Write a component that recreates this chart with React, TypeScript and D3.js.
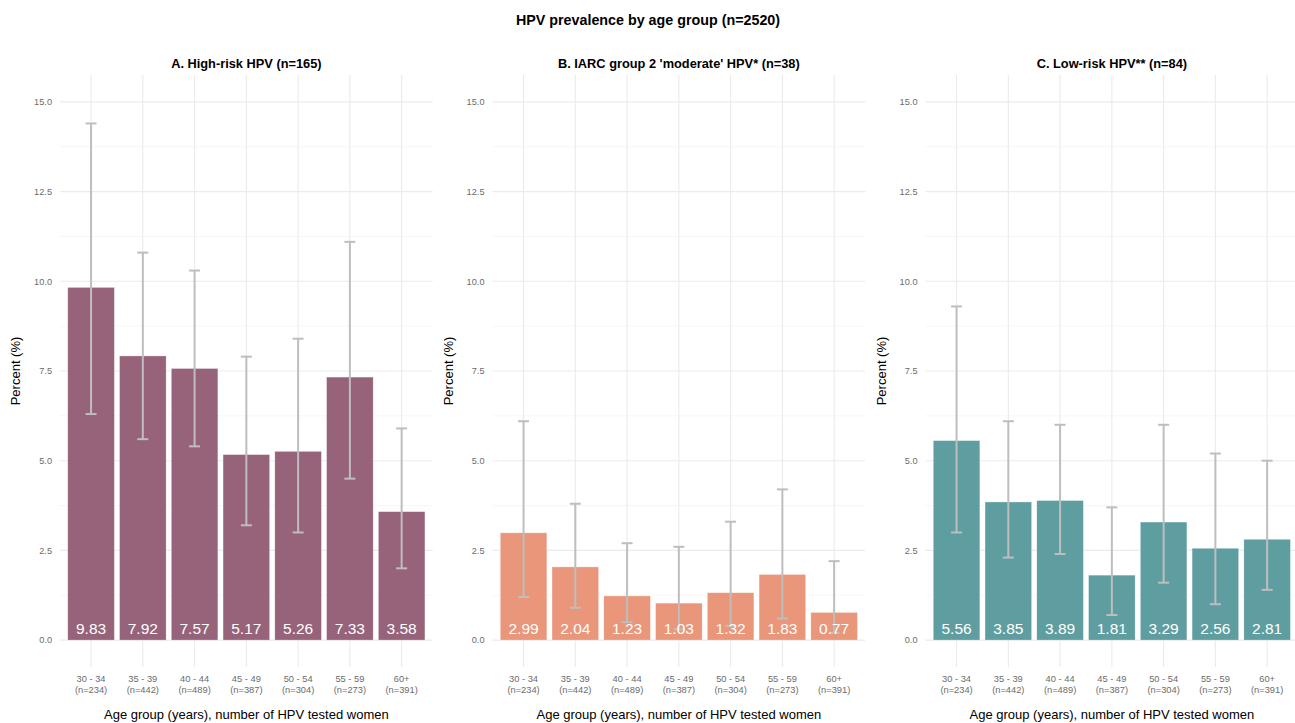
import React from "react";
import * as d3 from "d3";

const categories = ["30 - 34", "35 - 39", "40 - 44", "45 - 49", "50 - 54", "55 - 59", "60+"];
const nLabels = ["(n=234)", "(n=442)", "(n=489)", "(n=387)", "(n=304)", "(n=273)", "(n=391)"];

const panelTitles = [
  "A. High-risk HPV (n=165)",
  "B. IARC group 2 'moderate' HPV* (n=38)",
  "C. Low-risk HPV** (n=84)",
];
const panelColors = ["#96637a", "#e9967a", "#5f9ea0"];

const highRisk = [9.83, 7.92, 7.57, 5.17, 5.26, 7.33, 3.58];
const highRiskLow = [6.3, 5.6, 5.4, 3.2, 3.0, 4.5, 2.0];
const highRiskHigh = [14.4, 10.8, 10.3, 7.9, 8.4, 11.1, 5.9];

const moderate = [2.99, 2.04, 1.23, 1.03, 1.32, 1.83, 0.77];
const moderateLow = [1.2, 0.9, 0.5, 0.3, 0.4, 0.6, 0.2];
const moderateHigh = [6.1, 3.8, 2.7, 2.6, 3.3, 4.2, 2.2];

const lowRisk = [5.56, 3.85, 3.89, 1.81, 3.29, 2.56, 2.81];
const lowRiskLow = [3.0, 2.3, 2.4, 0.7, 1.6, 1.0, 1.4];
const lowRiskHigh = [9.3, 6.1, 6.0, 3.7, 6.0, 5.2, 5.0];

const yTicks = [0, 2.5, 5, 7.5, 10, 12.5, 15];
const yMinor = [1.25, 3.75, 6.25, 8.75, 11.25, 13.75];

const panels = [
  { values: highRisk, low: highRiskLow, high: highRiskHigh },
  { values: moderate, low: moderateLow, high: moderateHigh },
  { values: lowRisk, low: lowRiskLow, high: lowRiskHigh },
];

const W = 1295;
const H = 723;
const FONT = "'Liberation Sans', Arial, Helvetica, sans-serif";
const plotStarts = [60, 492.5, 925.5];
const plotWidth = 372.7;
const yTop = 75;
const yBottom = 667;

export default function App() {
  const y = d3.scaleLinear().domain([-0.75, 15.75]).range([yBottom, yTop]);
  return (
    <svg
      width={W}
      height={H}
      style={{ position: "absolute", left: 0, top: 0, background: "#fff" }}
      fontFamily={FONT}
    >
      <text x={648} y={25} textAnchor="middle" fontSize={14.3} fontWeight="bold" fill="#000">
        HPV prevalence by age group (n=2520)
      </text>
      {panels.map((p, pi) => {
        const x0 = plotStarts[pi];
        const x1 = x0 + plotWidth;
        const x = d3.scalePoint<string>().domain(categories).range([x0, x1]).padding(0.6);
        const bw = x.step() * 0.9;
        const cap = 11;
        return (
          <g key={pi}>
            {yMinor.map((t) => (
              <line key={"m" + t} x1={x0} x2={x1} y1={y(t)} y2={y(t)} stroke="#f4f4f4" strokeWidth={0.8} />
            ))}
            {yTicks.map((t) => (
              <line key={"g" + t} x1={x0} x2={x1} y1={y(t)} y2={y(t)} stroke="#ebebeb" strokeWidth={1.1} />
            ))}
            {categories.map((c) => (
              <line key={"v" + c} x1={x(c)} x2={x(c)} y1={yTop} y2={yBottom} stroke="#ebebeb" strokeWidth={1.1} />
            ))}
            {yTicks.map((t) => (
              <text key={"t" + t} x={x0 - 8} y={y(t) + 3.2} textAnchor="end" fontSize={9.2} fill="#6b6b6b">
                {t.toFixed(1)}
              </text>
            ))}
            <text
              transform={`translate(${x0 - 40},${(yTop + yBottom) / 2}) rotate(-90)`}
              textAnchor="middle"
              fontSize={13}
              fill="#000"
            >
              Percent (%)
            </text>
            <text x={(x0 + x1) / 2} y={68} textAnchor="middle" fontSize={12.8} fontWeight="bold" fill="#000">
              {panelTitles[pi]}
            </text>
            {categories.map((c, i) => (
              <rect
                key={"b" + c}
                x={(x(c) as number) - bw / 2}
                y={y(p.values[i])}
                width={bw}
                height={y(0) - y(p.values[i])}
                fill={panelColors[pi]}
                stroke="#ffffff"
                strokeOpacity={0.5}
                strokeWidth={0.6}
              />
            ))}
            {categories.map((c, i) => {
              const cx = x(c) as number;
              return (
                <g key={"e" + c} stroke="#bebebe" strokeWidth={2}>
                  <line x1={cx} x2={cx} y1={y(p.high[i])} y2={y(p.low[i])} />
                  <line x1={cx - cap / 2} x2={cx + cap / 2} y1={y(p.high[i])} y2={y(p.high[i])} />
                  <line x1={cx - cap / 2} x2={cx + cap / 2} y1={y(p.low[i])} y2={y(p.low[i])} />
                </g>
              );
            })}
            {categories.map((c, i) => (
              <text key={"l" + c} x={x(c)} y={633.5} textAnchor="middle" fontSize={15.5} fill="#ffffff">
                {p.values[i].toFixed(2)}
              </text>
            ))}
            {categories.map((c, i) => (
              <g key={"x" + c}>
                <text x={x(c)} y={682} textAnchor="middle" fontSize={9.3} fill="#6b6b6b">
                  {c}
                </text>
                <text x={x(c)} y={692.5} textAnchor="middle" fontSize={9.3} fill="#6b6b6b">
                  {nLabels[i]}
                </text>
              </g>
            ))}
            <text x={(x0 + x1) / 2} y={719} textAnchor="middle" fontSize={13} fill="#000">
              Age group (years), number of HPV tested women
            </text>
          </g>
        );
      })}
    </svg>
  );
}
